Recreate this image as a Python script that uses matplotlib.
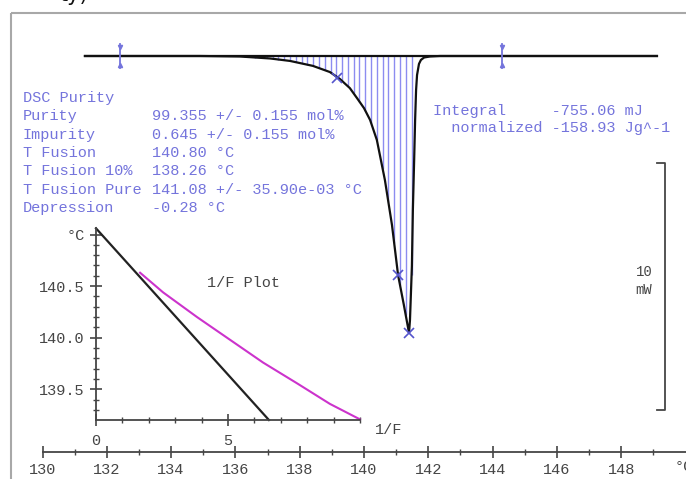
import numpy as np
import matplotlib
matplotlib.use("Agg")
import matplotlib.pyplot as plt
from matplotlib.patches import Rectangle

W, H = 686, 479
MONO = ["Liberation Mono", "DejaVu Sans Mono"]
BLUE = "#7474dc"
GREY = "#454545"

# DSC melting curve (temperature in degC, heat flow in mW relative to baseline)
temp = [131.32, 134.90, 136.14, 137.08, 137.70, 138.41, 138.94, 139.25, 139.56,
        139.78, 140.00, 140.19, 140.40, 140.65, 140.87, 141.06, 141.24, 141.40,
        141.43, 141.49, 141.52, 141.56, 141.59, 141.62, 141.65, 141.71, 141.77,
        141.87, 142.05, 142.36, 149.11]
heat = [0.0, 0.0, -0.02, -0.10, -0.20, -0.40, -0.65, -0.93, -1.30,
        -1.70, -2.11, -2.59, -3.40, -5.02, -6.84, -8.87, -10.08, -11.21,
        -10.69, -8.50, -6.23, -4.21, -2.59, -1.38, -0.77, -0.32, -0.16,
        -0.06, -0.02, 0.0, 0.0]
limits_t = [132.41, 144.29]          # integration limits
marks_t = [139.16, 141.06, 141.40]   # purity evaluation points
marks_h = [-0.89, -8.87, -11.21]

# 1/F plot
invf_meas = [1.67, 2.54, 3.83, 5.08, 6.33, 7.61, 8.86, 10.0]
t_meas = [140.63, 140.44, 140.20, 139.98, 139.76, 139.56, 139.36, 139.21]
invf_fit = [0.0, 6.55]
t_fit = [141.06, 139.204]

left_labels = ["DSC Purity", "Purity", "Impurity", "T Fusion", "T Fusion 10%",
               "T Fusion Pure", "Depression"]
left_values = ["", "99.355 +/- 0.155 mol%", "0.645 +/- 0.155 mol%", "140.80 °C",
               "138.26 °C", "141.08 +/- 35.90e-03 °C", "-0.28 °C"]
right_lines = ["Integral     -755.06 mJ", "  normalized -158.93 Jg^-1"]


def px(x, y):
    return x / W, 1 - y / H


fig = plt.figure(figsize=(W / 100, H / 100), dpi=100)

# main thermogram
t0 = 130 - 42.5 / 32.15
t1 = 130 + (W - 42.5) / 32.15
ax = fig.add_axes([0, 0, 1, 1])
ax.set_xlim(t0, t1)
ax.set_ylim(-(H - 56) / 24.7, 56 / 24.7)
ax.axis("off")

# hatching of integrated area
ht = np.arange(135.9, 141.62, 0.18)
hh = np.interp(ht, temp, heat)
ax.vlines(ht, hh, 0, color="#8c8cf0", lw=1.0)
ax.plot([131.32, 149.11], [0, 0], color="#111111", lw=1.6)
ax.plot(temp, heat, color="#111111", lw=1.6)
for lt in limits_t:
    ax.plot([lt, lt], [-0.5, 0.5], color=BLUE, lw=1.3)
    ax.plot([lt], [0.35], marker="v", ms=3, color=BLUE)
    ax.plot([lt], [-0.35], marker="^", ms=3, color=BLUE)
ax.plot(marks_t, marks_h, ls="none", marker="x", ms=7, mew=1.2, color="#5555cc")

# 10 mW scale bar
sb_t = 130 + (665 - 42.5) / 32.15
sb_l = 130 + (657 - 42.5) / 32.15
ax.plot([sb_l, sb_t, sb_t, sb_l], [-4.33, -4.33, -14.33, -14.33], color=GREY, lw=1.3)
fig.text(*px(644, 272), "10", family=MONO, fontsize=10, color=GREY, ha="center", va="center")
fig.text(*px(644, 290), "mW", family=MONO, fontsize=10, color=GREY, ha="center", va="center")

# temperature axis
axT = fig.add_axes([0, (H - 452) / H, 1, 0.001])
axT.set_xlim(t0, t1)
axT.set_yticks([])
for s in ["top", "left", "right"]:
    axT.spines[s].set_visible(False)
axT.spines["bottom"].set_bounds(130, t1)
axT.spines["bottom"].set_color(GREY)
axT.spines["bottom"].set_linewidth(1.3)
axT.set_xticks(np.arange(130, 149, 2))
axT.set_xticks(np.arange(131, 150, 2), minor=True)
axT.tick_params(axis="x", which="major", direction="inout", length=8, width=1.2,
                color=GREY, labelcolor=GREY, labelsize=11, pad=4)
axT.tick_params(axis="x", which="minor", direction="inout", length=4, width=1, color=GREY)
for lab in axT.get_xticklabels():
    lab.set_family(MONO)
fig.text(*px(675, 467), "°C", family=MONO, fontsize=11, color=GREY, ha="left", va="center")

# 1/F inset
axi = fig.add_axes([96 / W, (H - 420) / H, 264 / W, 192 / H])
axi.set_xlim(0, 10.0)
axi.set_ylim(139.204, 141.063)
axi.patch.set_alpha(0)
for s in ["top", "right"]:
    axi.spines[s].set_visible(False)
for s in ["left", "bottom"]:
    axi.spines[s].set_color(GREY)
    axi.spines[s].set_linewidth(1.3)
axi.plot(invf_fit, t_fit, color="#222222", lw=1.6, clip_on=False)
axi.plot(invf_meas, t_meas, color="#cc33cc", lw=1.5, clip_on=False)
axi.set_xticks([0, 5])
axi.set_xticks(np.arange(0, 11, 1), minor=True)
axi.set_yticks([139.5, 140.0, 140.5, 141.0])
axi.set_yticklabels(["139.5", "140.0", "140.5", "°C"])
axi.set_yticks(np.arange(139.3, 141.05, 0.1), minor=True)
axi.tick_params(which="major", direction="inout", length=8, width=1.2, color=GREY,
                labelcolor=GREY, labelsize=11)
axi.tick_params(axis="x", which="major", pad=6)
axi.tick_params(axis="y", which="major", pad=4)
axi.tick_params(which="minor", direction="inout", length=4, width=1, color=GREY)
for lab in axi.get_xticklabels() + axi.get_yticklabels():
    lab.set_family(MONO)
axi.text(5.57, 140.53, "1/F Plot", family=MONO, fontsize=11, color=GREY,
         ha="center", va="center")
axi.text(10.55, 139.11, "1/F", family=MONO, fontsize=11, color=GREY,
         ha="left", va="center", clip_on=False)

# result texts
for i, (lab, val) in enumerate(zip(left_labels, left_values)):
    y = 98 + 18.3 * i
    fig.text(*px(23, y), lab, family=MONO, fontsize=11, color=BLUE, va="center")
    if val:
        fig.text(*px(152, y), val, family=MONO, fontsize=11, color=BLUE, va="center")
for i, line in enumerate(right_lines):
    fig.text(*px(433, 111 + 17 * i), line, family=MONO, fontsize=11, color=BLUE, va="center")

# window frame and cut-off title
fig.add_artist(Rectangle(px(11, 13), 800 / W, -600 / H, transform=fig.transFigure,
                         fill=False, edgecolor="#a8a8a8", lw=1.5))
fig.text(*px(60, -5), "ty)", fontsize=15, color="#111111", va="center")

fig.savefig("out.png", dpi=100)
